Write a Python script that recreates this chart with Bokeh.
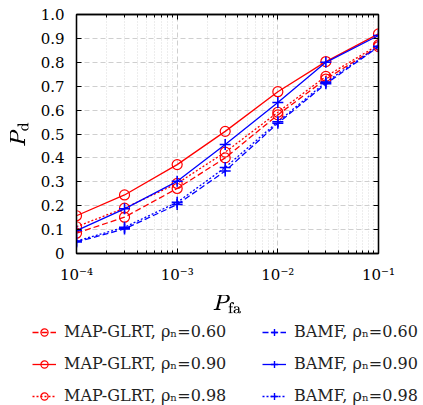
from bokeh.plotting import figure
from bokeh.layouts import column
from bokeh.models import (Legend, LegendItem, LogAxis, LinearAxis, FixedTicker)
from bokeh.embed import file_html
from bokeh.resources import INLINE

# ---------------- data ----------------
pfa = [1e-4, 3e-4, 1e-3, 3e-3, 1e-2, 3e-2, 1e-1]
map_glrt_060 = [0.085, 0.152, 0.272, 0.400, 0.580, 0.730, 0.866]
map_glrt_090 = [0.158, 0.245, 0.372, 0.511, 0.677, 0.803, 0.919]
map_glrt_098 = [0.112, 0.190, 0.293, 0.424, 0.591, 0.741, 0.873]
bamf_060 = [0.048, 0.103, 0.205, 0.345, 0.545, 0.710, 0.865]
bamf_090 = [0.096, 0.187, 0.302, 0.456, 0.632, 0.800, 0.912]
bamf_098 = [0.052, 0.110, 0.214, 0.360, 0.551, 0.717, 0.867]

x_ticks = [1e-4, 1e-3, 1e-2, 1e-1]
x_tick_labels = ["10\u207b\u2074", "10\u207b\u00b3", "10\u207b\u00b2", "10\u207b\u00b9"]
y_ticks = [0, 0.1, 0.2, 0.3, 0.4, 0.5, 0.6, 0.7, 0.8, 0.9, 1.0]
y_tick_labels = ["0", "0.1", "0.2", "0.3", "0.4", "0.5", "0.6", "0.7", "0.8", "0.9", "1.0"]

x_title = r"$$P_{\mathrm{fa}}$$"
y_title = r"$$P_{\mathrm{d}}$$"
map_labels = ["MAP-GLRT, \u03c1\u2099=0.60", "MAP-GLRT, \u03c1\u2099=0.90", "MAP-GLRT, \u03c1\u2099=0.98"]
bamf_labels = ["BAMF, \u03c1\u2099=0.60", "BAMF, \u03c1\u2099=0.90", "BAMF, \u03c1\u2099=0.98"]

FONT = "DejaVu Serif"
RED = "#ff0000"
BLUE = "#0000ff"
dashes = ["6 3", "solid", "2 2"]
map_series = [map_glrt_060, map_glrt_090, map_glrt_098]
bamf_series = [bamf_060, bamf_090, bamf_098]

x_minor = [m * 10.0 ** e for e in range(-4, -1) for m in range(2, 10)]

# ---------------- main plot ----------------
p = figure(width=423, height=318, x_axis_type="log",
           x_range=(1e-4, 1e-1), y_range=(0, 1),
           output_backend="svg", toolbar_location=None,
           min_border_left=76, min_border_right=45,
           min_border_top=14, min_border_bottom=65)
p.background_fill_color = "white"
p.border_fill_color = "white"
p.outline_line_color = "black"
p.outline_line_width = 1.3

xt = FixedTicker(ticks=x_ticks, minor_ticks=x_minor)
yt = FixedTicker(ticks=y_ticks)

for ax in p.xaxis:
    ax.ticker = xt
    ax.major_label_overrides = dict(zip(x_ticks, x_tick_labels))
for ax in p.yaxis:
    ax.ticker = yt
    ax.major_label_overrides = dict(zip(y_ticks, y_tick_labels))

def style_axis(ax, labels=True, minor=True):
    ax.axis_line_color = "black"
    ax.axis_line_width = 1.3
    ax.major_tick_in = 5
    ax.major_tick_out = 0
    ax.major_tick_line_color = "black"
    ax.major_tick_line_width = 1
    if minor:
        ax.minor_tick_in = 3
        ax.minor_tick_out = 0
        ax.minor_tick_line_color = "black"
    else:
        ax.minor_tick_line_color = None
    if labels:
        ax.major_label_text_font = FONT
        ax.major_label_text_font_size = "15px"
        ax.major_label_text_color = "black"
        ax.major_label_standoff = 12
    else:
        ax.major_label_text_font_size = "0px"
        ax.major_label_text_color = None
        ax.major_label_standoff = 0

style_axis(p.xaxis[0], True, True)
style_axis(p.yaxis[0], True, False)

p.xaxis.axis_label = x_title
p.yaxis.axis_label = y_title
for ax in (p.xaxis[0], p.yaxis[0]):
    ax.axis_label_text_font_size = "18px"
    ax.axis_label_text_color = "black"
    ax.axis_label_standoff = 8

top = LogAxis(ticker=xt)
style_axis(top, False, True)
p.add_layout(top, "above")
right = LinearAxis(ticker=yt)
style_axis(right, False, False)
p.add_layout(right, "right")

p.xgrid.ticker = xt
p.ygrid.ticker = yt
p.xgrid.grid_line_color = "#cfcfcf"
p.xgrid.grid_line_dash = "5 3"
p.xgrid.minor_grid_line_color = "#dadada"
p.xgrid.minor_grid_line_dash = "1 2"
p.ygrid.grid_line_color = "#cfcfcf"
p.ygrid.grid_line_dash = "5 3"

for ys, dash in zip(map_series, dashes):
    p.line(pfa, ys, line_color=RED, line_width=1.3, line_dash=dash)
    p.scatter(pfa, ys, marker="circle", size=10, fill_color=None,
              line_color=RED, line_width=1.2)
for ys, dash in zip(bamf_series, dashes):
    p.line(pfa, ys, line_color=BLUE, line_width=1.3, line_dash=dash)
    p.scatter(pfa, ys, marker="cross", size=11, line_color=BLUE, line_width=1.6)

# ---------------- legend strip ----------------
lf = figure(width=423, height=87, x_axis_type="log",
            x_range=(1e-4, 1e-1), y_range=(0, 1),
            output_backend="svg", toolbar_location=None,
            min_border=0, x_axis_location=None, y_axis_location=None)
lf.outline_line_color = None
lf.xgrid.visible = False
lf.ygrid.visible = False

def legend_item(ys, lab, dash, color, marker):
    ln = lf.line(pfa, ys, line_color=color, line_width=1.3, line_dash=dash, visible=False)
    if marker == "circle":
        mk = lf.scatter(pfa, ys, marker="circle", size=5, fill_color=None,
                        line_color=color, line_width=1.2, visible=False)
    else:
        mk = lf.scatter(pfa, ys, marker="cross", size=7, line_color=color,
                        line_width=1.4, visible=False)
    return LegendItem(label=lab, renderers=[ln, mk])

items = []
for i in range(3):
    items.append(legend_item(map_series[i], map_labels[i], dashes[i], RED, "circle"))
    items.append(legend_item(bamf_series[i], bamf_labels[i], dashes[i], BLUE, "cross"))

lg = Legend(items=items, ncols=2, orientation="horizontal", location=(-44, 0))
lg.label_text_font = FONT
lg.label_text_font_size = "16px"
lg.label_text_color = "#222222"
lg.background_fill_alpha = 0
lg.border_line_color = None
lg.inactive_fill_alpha = 0
lg.padding = 0
lg.margin = 0
lg.spacing = 13
lg.label_height = 18
lg.glyph_height = 18
lg.glyph_width = 24
lg.label_standoff = 8
lg.label_width = 185
lf.add_layout(lg, "below")

open("out.html", "w").write(file_html(column(p, lf), INLINE))
